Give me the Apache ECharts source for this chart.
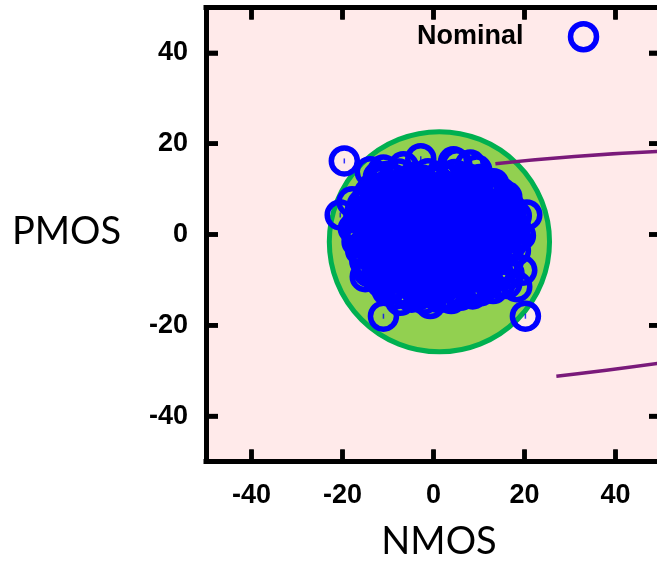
<!DOCTYPE html>
<html>
<head>
<meta charset="utf-8">
<script src="https://cdn.jsdelivr.net/npm/echarts@6/dist/echarts.min.js"></script>
<style>
html,body{margin:0;padding:0;background:#fff;}
#chart{width:657px;height:566px;}
</style>
</head>
<body>
<div id="chart"></div>
<script>
// ---- data ----
const xTicks = [-40, -20, 0, 20, 40];
const yTicks = [-40, -20, 0, 20, 40];
const axisMin = -50;
const axisMax = 50;
const seriesName = 'Nominal';
const xTitle = 'NMOS';
const yTitle = 'PMOS';

// green tolerance circle: centre (NMOS, PMOS) and radius in data units
const circleCenter = [1.3, -1.6];
const circleRadius = 24.2;

// purple curves (partly outside the plot)
const purpleUpper = [[13.6, 15.6], [31.0, 17.2], [50.0, 18.3]];
const purpleLower = [[27.0, -31.2], [38.0, -29.9], [50.0, -28.3]];

// nominal samples (NMOS, PMOS)
const nominalPoints = [
  [-19.6, 16.2], [-11.0, -18.0], [20.2, -18.0], [-2.8, 16.7], [-20.5, 4.3],
  [-17.9, 7.2], [-16.8, -1.6], [-15.0, -9.3], [-12.1, 12.7], [5.1, 15.6],
  [9.5, 14.2], [13.2, 11.2], [16.1, 8.3], [20.5, 4.3], [19.1, -0.2],
  [19.4, -7.9], [18.3, -11.5], [10.6, -11.5], [5.9, -13.4], [-0.7, -15.2],
  [-7.3, -14.5], [-10.2, -12.3], [4.4, 16.0], [-13.9, 13.8], [-6.6, 14.9],
  [-17.6, 1.3], [16.1, -10.8], [8.1, 15.3], [-11.0, 14.2],
  [-10.3, 12.8], [-7.6, 13.3], [-4.4, 12.6], [-1.2, 13.4], [1.7, 12.9], [4.6, 13.2], [7.3, 12.4], [10.2, 12.1],
  [-11.8, 11.6], [-8.7, 12.1], [-5.6, 11.5], [-2.5, 12.0], [0.3, 11.7], [3.6, 12.2], [6.4, 11.4], [9.3, 11.9], [12.0, 11.3],
  [-13.2, 10.3], [-10.1, 10.9], [-6.8, 10.4], [-3.9, 10.8], [-0.8, 10.2], [2.2, 10.7], [5.1, 10.4], [8.2, 10.9], [11.1, 10.1], [13.6, 9.8],
  [-14.1, 9.1], [-11.9, 9.6], [-8.3, 9.0], [-5.4, 9.5], [-2.2, 9.1], [0.9, 9.6], [3.8, 9.2], [6.9, 9.5], [9.8, 9.0], [12.6, 9.4], [14.8, 9.2],
  [-14.7, 7.7], [-11.4, 8.3], [-8.6, 7.8], [-5.3, 8.2], [-2.6, 7.6], [0.6, 8.4], [3.4, 7.9], [6.7, 8.1], [9.6, 7.7], [12.4, 8.2], [15.3, 7.4],
  [-15.6, 6.6], [-12.8, 7.1], [-10.2, 6.5], [-6.9, 7.0], [-4.1, 6.6], [-0.8, 7.2], [2.0, 6.7], [5.0, 7.1], [8.3, 6.5], [11.0, 7.0], [13.9, 6.6], [16.3, 6.9],
  [-16.1, 5.2], [-13.2, 5.8], [-9.8, 5.3], [-7.1, 5.7], [-3.8, 5.4], [-1.1, 5.9], [2.3, 5.3], [5.2, 5.6], [8.1, 5.2], [11.2, 5.8], [14.1, 5.4], [17.1, 5.6],
  [-16.4, 4.1], [-14.0, 4.5], [-11.1, 3.9], [-8.0, 4.4], [-5.1, 4.0], [-2.2, 4.5], [1.0, 4.1], [4.0, 4.4], [7.0, 3.9], [9.9, 4.3], [13.0, 4.0], [15.8, 4.4], [18.2, 4.1],
  [-15.4, 2.8], [-12.6, 3.2], [-9.3, 2.7], [-6.4, 3.3], [-3.6, 2.9], [-0.4, 3.1], [2.7, 2.6], [5.4, 3.2], [8.6, 2.8], [11.3, 3.3], [14.6, 2.7], [17.2, 2.9],
  [-16.6, 1.6], [-14.1, 2.0], [-11.0, 1.5], [-8.1, 2.1], [-5.2, 1.7], [-2.3, 2.2], [0.8, 1.6], [3.9, 2.0], [6.8, 1.5], [9.8, 2.1], [12.8, 1.7], [15.6, 1.9], [18.0, 1.6],
  [-16.2, 0.6], [-12.9, 0.2], [-10.1, 0.8], [-6.8, 0.3], [-4.2, 0.7], [-0.9, 0.2], [2.1, 0.9], [5.3, 0.4], [7.8, 0.6], [11.1, 0.1], [14.2, 0.8], [17.1, 0.4],
  [-16.7, -0.6], [-14.4, -1.0], [-11.5, -0.7], [-8.3, -1.1], [-5.5, -0.6], [-2.4, -1.0], [0.6, -0.7], [3.7, -1.1], [6.9, -0.6], [9.6, -1.0], [12.7, -0.7], [15.6, -1.1], [18.1, -0.8],
  [-15.3, -2.2], [-12.4, -1.7], [-9.7, -2.3], [-6.3, -1.8], [-3.4, -2.1], [-0.6, -1.6], [2.6, -2.4], [5.7, -1.9], [8.4, -2.2], [11.6, -1.7], [14.3, -2.3], [17.2, -2.0],
  [-16.0, -3.5], [-13.6, -3.1], [-10.9, -3.6], [-7.8, -3.2], [-4.9, -3.6], [-1.9, -3.1], [1.2, -3.5], [4.3, -3.1], [7.1, -3.6], [10.2, -3.2], [13.0, -3.5], [16.1, -3.1], [18.0, -3.6],
  [-14.8, -4.3], [-12.2, -4.8], [-8.9, -4.4], [-6.2, -4.9], [-2.8, -4.2], [0.2, -4.7], [3.1, -4.3], [6.2, -4.8], [8.8, -4.4], [12.1, -4.9], [15.2, -4.2],
  [-15.1, -5.9], [-13.0, -5.6], [-10.0, -6.1], [-7.2, -5.5], [-4.1, -6.0], [-1.2, -5.6], [1.9, -6.1], [4.7, -5.7], [7.6, -6.0], [10.6, -5.5], [13.6, -5.9], [16.5, -5.6],
  [-13.8, -7.2], [-11.3, -6.8], [-8.4, -7.3], [-5.6, -6.7], [-2.3, -7.1], [0.7, -6.9], [3.6, -7.4], [6.4, -6.8], [9.7, -7.2], [12.3, -6.9], [15.4, -7.3],
  [-14.3, -8.1], [-12.5, -8.6], [-9.7, -8.0], [-7.0, -8.5], [-4.0, -8.2], [-0.9, -8.6], [1.9, -8.1], [5.0, -8.6], [8.0, -8.2], [11.0, -8.5], [14.1, -8.1], [16.6, -8.6],
  [-12.3, -9.7], [-9.8, -9.2], [-6.9, -9.8], [-3.8, -9.3], [-1.2, -9.6], [2.1, -9.2], [4.8, -9.8], [8.2, -9.4], [10.9, -9.6], [13.8, -9.3],
  [-11.4, -10.6], [-8.4, -11.0], [-5.5, -10.5], [-2.6, -11.0], [0.2, -10.6], [3.2, -11.1], [6.1, -10.7], [9.2, -11.0], [12.1, -10.6], [14.6, -10.9],
  [-9.6, -11.8], [-7.4, -12.2], [-4.3, -11.7], [-1.6, -12.3], [1.4, -11.9], [4.3, -12.1], [7.6, -11.8], [10.3, -12.4], [13.1, -11.9],
  [-8.3, -13.1], [-6.1, -12.8], [-3.3, -13.3], [-0.2, -12.9], [2.8, -13.2], [5.7, -12.8], [8.6, -13.1],
  [-4.8, -13.8], [-2.1, -14.2], [1.2, -13.9], [3.9, -14.1]
];

// ---- chart ----
const tickFont = {fontFamily: '"Liberation Sans", Arial, sans-serif', fontSize: 27, fontWeight: 'bold', color: '#000'};
const titleFont = '"Lato", "Open Sans", sans-serif';
const BLUE = '#0000ff';
const TICK_LEN = 12;
const TICK_W = 4.5;

function frameAxis(position, ticks, label) {
  const ax = {
    type: 'value', min: axisMin, max: axisMax, position: position,
    axisLine: {show: true, onZero: false, lineStyle: {color: '#000', width: 5, cap: 'square'}},
    splitLine: {show: false},
    axisTick: {show: true, inside: true, length: TICK_LEN, customValues: ticks, lineStyle: {color: '#000', width: TICK_W}},
    axisLabel: {show: false}
  };
  if (label) ax.axisLabel = Object.assign({show: true, customValues: ticks}, tickFont, label);
  return ax;
}

const chart = echarts.init(document.getElementById('chart'), null, {renderer: 'canvas'});
chart.setOption({
  animation: false,
  grid: {
    left: 206, top: 7.5, width: 455, height: 454,
    show: true, backgroundColor: '#ffeaea', borderWidth: 0,
    outerBoundsMode: 'none'
  },
  legend: {
    data: [seriesName],
    left: 417, top: 21, padding: 0,
    align: 'right',
    itemWidth: 26, itemHeight: 26,
    icon: 'circle',
    itemStyle: {color: 'rgba(0,0,0,0)', borderColor: BLUE, borderWidth: 5.5},
    textStyle: Object.assign({}, tickFont, {padding: [0, 42, 0, 0]})
  },
  xAxis: [
    frameAxis('bottom', xTicks, {margin: 21}),
    frameAxis('top', xTicks, null)
  ],
  yAxis: [
    frameAxis('left', yTicks, {margin: 18, padding: [6, 0, 0, 0]}),
    frameAxis('right', yTicks, null)
  ],
  series: [
    {
      type: 'custom', xAxisIndex: 0, yAxisIndex: 0, z: 1, silent: true,
      data: [[circleCenter[0], circleCenter[1], circleRadius]],
      renderItem: function (params, api) {
        const c = api.coord([api.value(0), api.value(1)]);
        const s = api.size([api.value(2), api.value(2)]);
        return {type: 'circle', shape: {cx: c[0], cy: c[1], r: s[0]},
          style: {fill: '#92d050', stroke: '#00b050', lineWidth: 5}};
      }
    },
    {type: 'line', data: purpleUpper, smooth: true, showSymbol: false, z: 2, silent: true,
      lineStyle: {color: '#7a1a7a', width: 3.5}},
    {type: 'line', data: purpleLower, smooth: true, showSymbol: false, z: 2, silent: true,
      lineStyle: {color: '#7a1a7a', width: 3.5}},
    {
      name: seriesName, type: 'scatter', data: nominalPoints, z: 3,
      symbol: 'circle', symbolSize: 26,
      itemStyle: {color: 'rgba(0,0,0,0)', borderColor: BLUE, borderWidth: 5.5, opacity: 1}
    },
    {
      name: 'centres', type: 'scatter', data: nominalPoints, z: 4, silent: true,
      symbol: 'rect', symbolSize: [1.5, 5],
      itemStyle: {color: BLUE}
    }
  ]
});

// titles and mirrored inward tick marks, positioned through the chart's own scales
const finder = {gridIndex: 0};
const frameTicks = [];
xTicks.forEach(function (v) {
  const b = chart.convertToPixel(finder, [v, axisMin]);
  const t = chart.convertToPixel(finder, [v, axisMax]);
  frameTicks.push({type: 'rect', z: 100, silent: true,
    shape: {x: b[0] - TICK_W / 2, y: b[1] - TICK_LEN, width: TICK_W, height: TICK_LEN}, style: {fill: '#000'}});
  frameTicks.push({type: 'rect', z: 100, silent: true,
    shape: {x: t[0] - TICK_W / 2, y: t[1], width: TICK_W, height: TICK_LEN}, style: {fill: '#000'}});
});
yTicks.forEach(function (v) {
  const l = chart.convertToPixel(finder, [axisMin, v]);
  const r = chart.convertToPixel(finder, [axisMax, v]);
  frameTicks.push({type: 'rect', z: 100, silent: true,
    shape: {x: l[0], y: l[1] - TICK_W / 2, width: TICK_LEN, height: TICK_W}, style: {fill: '#000'}});
  frameTicks.push({type: 'rect', z: 100, silent: true,
    shape: {x: r[0] - TICK_LEN, y: r[1] - TICK_W / 2, width: TICK_LEN, height: TICK_W}, style: {fill: '#000'}});
});

chart.setOption({
  graphic: [
    {type: 'text', x: 439, y: 542, style: {text: xTitle, font: '38px ' + titleFont, fill: '#000', align: 'center', verticalAlign: 'middle'}},
    {type: 'text', x: 66.5, y: 232, style: {text: yTitle, font: '38px ' + titleFont, fill: '#000', align: 'center', verticalAlign: 'middle'}}
  ].concat(frameTicks)
});
</script>
</body>
</html>
